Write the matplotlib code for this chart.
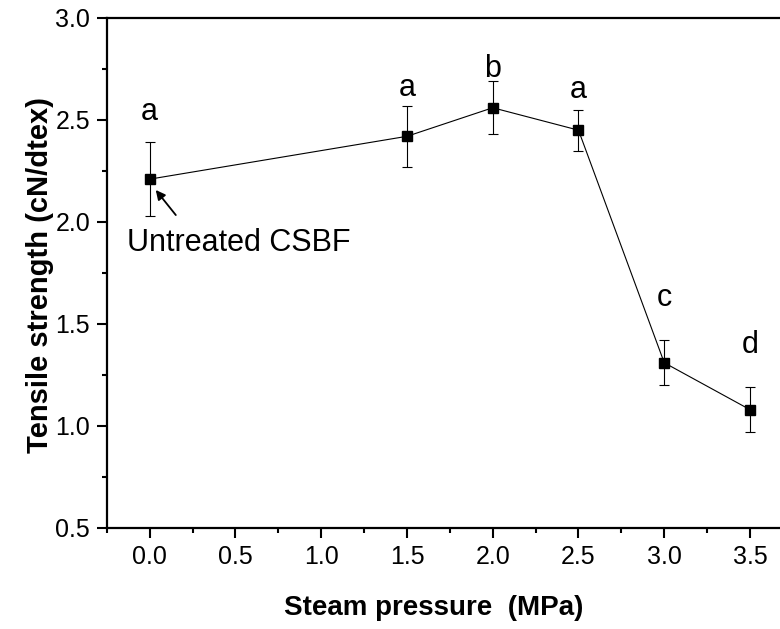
import matplotlib
matplotlib.use('Agg')
import matplotlib.pyplot as plt
from matplotlib.ticker import MultipleLocator

plt.rcParams['font.family'] = ['Liberation Sans', 'DejaVu Sans']

# data
pressure = [0.0, 1.5, 2.0, 2.5, 3.0, 3.5]
strength = [2.21, 2.42, 2.56, 2.45, 1.31, 1.08]
err = [0.18, 0.15, 0.13, 0.10, 0.11, 0.11]
letters = ['a', 'a', 'b', 'a', 'c', 'd']
# baseline height of each letter (data units)
letter_y = [2.50, 2.62, 2.71, 2.61, 1.59, 1.36]

fig = plt.figure(figsize=(7.8, 6.29), dpi=100)
ax = fig.add_axes([0.137, 0.1606, 0.8795, 0.8108])

ax.errorbar(pressure, strength, yerr=err, fmt='-s', color='black',
            lw=0.8, ms=6.8, elinewidth=0.8, capsize=3.6, capthick=0.8)

# significance letters above error bars
for x, y, l in zip(pressure, letter_y, letters):
    ax.text(x, y, l, ha='center', va='baseline', fontsize=22)

ax.annotate('', xy=(0.035, 2.157), xytext=(0.152, 2.034),
            arrowprops=dict(arrowstyle='-|>', color='black', lw=1.3,
                            mutation_scale=14, shrinkA=0, shrinkB=0))
ax.text(-0.135, 1.86, 'Untreated CSBF', fontsize=22, va='baseline', ha='left')

ax.set_xlim(-0.25, 3.75)
ax.set_ylim(0.5, 3.0)
ax.xaxis.set_major_locator(MultipleLocator(0.5))
ax.xaxis.set_minor_locator(MultipleLocator(0.25))
ax.yaxis.set_major_locator(MultipleLocator(0.5))
ax.yaxis.set_minor_locator(MultipleLocator(0.25))
ax.tick_params(which='major', direction='out', length=7, width=1.5,
               labelsize=18, pad=5, top=False, right=False)
ax.tick_params(which='minor', direction='out', length=3.5, width=1.5,
               top=False, right=False)
ax.set_xticks([0.0, 0.5, 1.0, 1.5, 2.0, 2.5, 3.0, 3.5])
ax.set_xticklabels(['0.0', '0.5', '1.0', '1.5', '2.0', '2.5', '3.0', '3.5'])
for s in ['left', 'bottom', 'top']:
    ax.spines[s].set_linewidth(1.6)
ax.spines['right'].set_visible(False)

ax.set_xlabel('Steam pressure  (MPa)', fontsize=20, fontweight='bold')
ax.set_ylabel('Tensile strength (cN/dtex)', fontsize=21, fontweight='bold')
ax.xaxis.set_label_coords(0.477, -0.157)
ax.yaxis.set_label_coords(-0.098, 0.496)
ax.xaxis.label.set_va('center')
ax.yaxis.label.set_va('center')

fig.savefig('out.png', dpi=100)
